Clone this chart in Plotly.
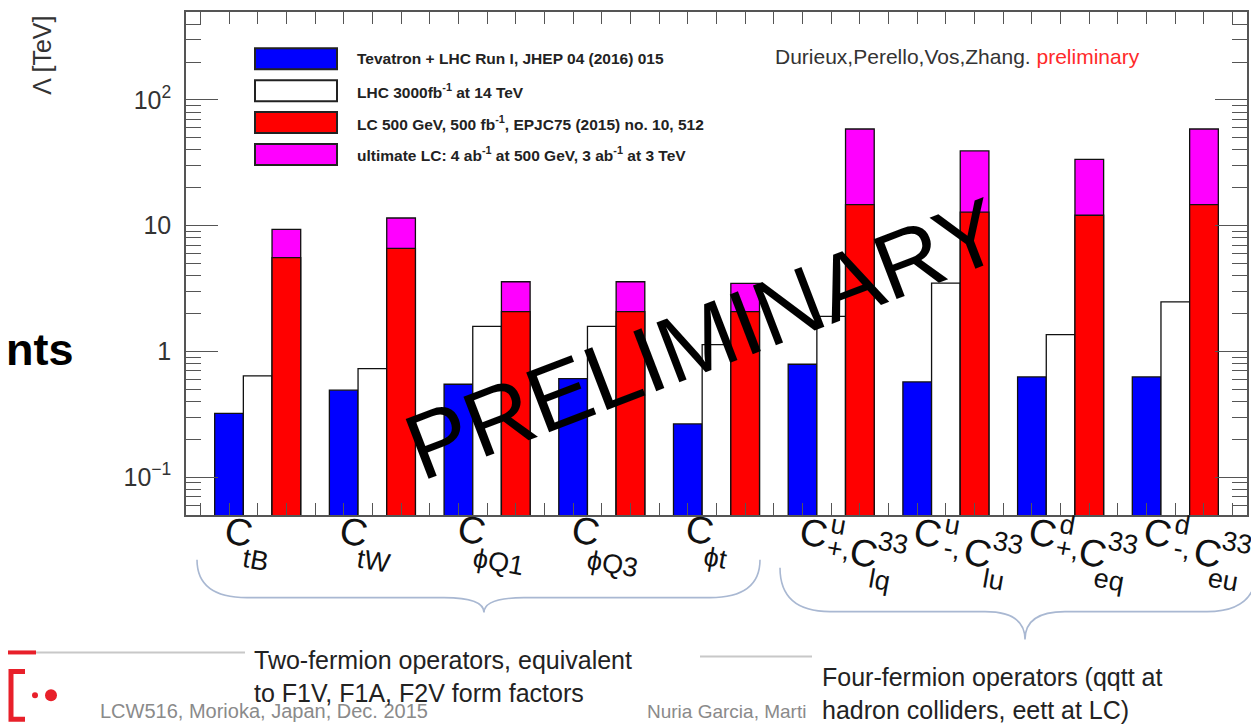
import math
import plotly.graph_objects as go

# ---------------- data ----------------
operators = ["C_tB", "C_tW", "C_phiQ1", "C_phiQ3", "C_phit",
             "C+u,Clq33", "C-u,Clu33", "C+d,Ceq33", "C-d,Ceu33"]
series_names = ["Tevatron + LHC Run I, JHEP 04 (2016) 015",
                "LHC 3000fb<sup>-1</sup> at 14 TeV",
                "LC 500 GeV, 500 fb<sup>-1</sup>, EPJC75 (2015) no. 10, 512",
                "ultimate LC: 4 ab<sup>-1</sup> at 500 GeV, 3 ab<sup>-1</sup> at 3 TeV"]
tevatron_lhc_run1 = [0.322, 0.492, 0.548, 0.608, 0.265, 0.79, 0.572, 0.627, 0.627]
lhc_3000 = [0.638, 0.730, 1.58, 1.58, 1.13, 1.90, 3.49, 1.36, 2.48]
lc_500 = [5.57, 6.6, 2.07, 2.07, 2.07, 14.7, 12.8, 12.1, 14.7]
ultimate_lc = [9.33, 11.5, 3.58, 3.58, 3.47, 58.7, 39.3, 33.7, 58.7]
y_tickvals = [0.1, 1, 10, 100]
y_ticktext = ["10<sup>\u22121</sup>", "1", "10", "10<sup>2</sup>"]

# ---------------- geometry (page pixels) ----------------
OFF = 8                      # default page margin of the html body
PW, PH = 1259, 726
W, H = PW - OFF, PH - OFF
L, R, T, B = 186, 1247, 10, 515
FONT = "Liberation Sans, Arial, Helvetica, sans-serif"


def px(x):
    return (x - L) / (R - L)


def py(y):
    return (B - y) / (B - T)


n = len(operators)
nbins = 4 * n + 1
x_blue = [1 + 4 * i for i in range(n)]
x_white = [2 + 4 * i for i in range(n)]
x_red = [3 + 4 * i for i in range(n)]

OUT = dict(color="#111111", width=1.3)
fig = go.Figure()
fig.add_bar(x=x_blue, y=tevatron_lhc_run1, width=1, name=series_names[0],
            marker=dict(color="#0000ff", line=OUT), showlegend=False)
fig.add_bar(x=x_white, y=lhc_3000, width=1, name=series_names[1],
            marker=dict(color="#ffffff", line=OUT), showlegend=False)
fig.add_bar(x=x_red, y=ultimate_lc, width=1, name=series_names[3],
            marker=dict(color="#ff00ff", line=OUT), showlegend=False)
fig.add_bar(x=x_red, y=lc_500, width=1, name=series_names[2],
            marker=dict(color="#ff0000", line=OUT), showlegend=False)

minor_vals = [m * 10 ** e for e in range(-2, 3) for m in range(2, 10)]

fig.update_layout(
    width=W, height=H, barmode="overlay",
    margin=dict(l=L - OFF, r=PW - R, t=T - OFF, b=PH - B, pad=0),
    plot_bgcolor="white", paper_bgcolor="white",
    font=dict(family=FONT, color="#222"),
    xaxis=dict(range=[-0.5, nbins - 0.5], tickmode="array",
               tickvals=list(range(nbins)), showticklabels=False,
               ticks="inside", ticklen=12, tickcolor="#555", tickwidth=1.2,
               showline=True, linecolor="#555", linewidth=1.5, mirror="ticks",
               showgrid=False, zeroline=False, layer="above traces"),
    yaxis=dict(type="log", range=[math.log10(0.05), math.log10(500)],
               tickmode="array", tickvals=y_tickvals, ticktext=y_ticktext,
               ticks="inside", ticklen=32, tickcolor="#555", tickwidth=1.2,
               tickfont=dict(size=25, color="#333", family=FONT),
               ticklabelstandoff=8,
               minor=dict(ticks="inside", ticklen=15, tickcolor="#555",
                          tickwidth=1.2, tickvals=minor_vals, showgrid=False),
               showline=True, linecolor="#555", linewidth=1.5, mirror="ticks",
               showgrid=False, zeroline=False, layer="above traces"),
)

ann = []
shapes = []


def text(x, y, s, size, color="#222", angle=0, xanchor="center",
         yanchor="middle", **kw):
    ann.append(dict(x=px(x), y=py(y), xref="paper", yref="paper", text=s,
                    showarrow=False, textangle=angle, xanchor=xanchor,
                    yanchor=yanchor,
                    font=dict(size=size, color=color,
                              family=kw.pop("family", FONT)), **kw))


# axis title
text(42, 54, "\u039b [TeV]", 25, "#333", angle=-90)
# slide title fragment
text(76, 349, "<b>nts</b>", 45, "#000", xanchor="right")

# legend
legend_rows = [57, 89, 121, 153]
legend_colors = ["#0000ff", "#ffffff", "#ff0000", "#ff00ff"]
for yc, col, name in zip(legend_rows, legend_colors, series_names):
    shapes.append(dict(type="rect", xref="paper", yref="paper",
                       x0=px(255), x1=px(337), y0=py(yc + 10.5), y1=py(yc - 10.5),
                       fillcolor=col, line=dict(color="#222", width=2)))
    text(355, yc, "<b>" + name + "</b>", 15.5, "#222", xanchor="left")

# authors
text(773, 55, "Durieux,Perello,Vos,Zhang. <span style='color:#ff2a2a'>preliminary</span>",
     21, "#333", xanchor="left")

# PRELIMINARY stamp
text(703, 338, "PRELIMINARY", 93, "#000", angle=-21)

# x-axis category labels (ROOT-style rotated)
ANG = 10
two_ferm = [("C", 238, 532, "tB", 256, 560),
            ("C", 353, 532, "tW", 374, 561),
            ("C", 471, 530, "\u03d5Q1", 498, 562),
            ("C", 585, 531, "\u03d5Q3", 612, 564),
            ("C", 699, 530, "\u03d5t", 715, 558)]
for c, cx, cy, sub, sx, sy in two_ferm:
    text(cx, cy, c, 38, "#111", angle=ANG)
    text(sx, sy, sub, 27, "#111", angle=ANG)

four_ferm = [("u", "+,", "lq"), ("u", "-,", "lu"), ("d", "+,", "eq"), ("d", "-,", "eu")]
for k, (sup, sgn, sub2) in enumerate(four_ferm):
    g = 5 + k
    cpx = L + (2 + 4 * g + 0.5) * (R - L) / nbins
    text(cpx - 18, 533, "C", 38, "#111", angle=ANG)
    text(cpx + 7, 525, sup, 27, "#111", angle=ANG)
    text(cpx + 7, 549, sgn, 27, "#111", angle=ANG)
    text(cpx + 32, 553, "C", 38, "#111", angle=ANG)
    text(cpx + 62, 543, "33", 27, "#111", angle=ANG)
    text(cpx + 48, 580, sub2, 27, "#111", angle=ANG)


# braces
def brace(x0, x1, xm, ye, yf, yt, r_end, r_mid):
    p = lambda x, y: f"{px(x):.5f},{py(y):.5f}"
    return (f"M {p(x0, ye)} Q {p(x0, yf)} {p(x0 + r_end, yf)} "
            f"L {p(xm - r_mid, yf)} Q {p(xm, yf)} {p(xm, yt)} "
            f"Q {p(xm, yf)} {p(xm + r_mid, yf)} "
            f"L {p(x1 - r_end, yf)} Q {p(x1, yf)} {p(x1, ye)}")


BRACE = dict(color="#a9b8d2", width=1.6)
shapes.append(dict(type="path", xref="paper", yref="paper",
                   path=brace(197, 760, 484, 560, 598, 613, 50, 40), line=BRACE))
shapes.append(dict(type="path", xref="paper", yref="paper",
                   path=brace(780, 1257, 1025, 568, 612, 640, 50, 40), line=BRACE))

# footer
GRAY = dict(color="#c8c8c8", width=2)
shapes.append(dict(type="line", xref="paper", yref="paper", x0=px(36), x1=px(245),
                   y0=py(653), y1=py(653), line=GRAY))
shapes.append(dict(type="line", xref="paper", yref="paper", x0=px(700), x1=px(812),
                   y0=py(657), y1=py(657), line=GRAY))
shapes.append(dict(type="line", xref="paper", yref="paper", x0=px(8), x1=px(36),
                   y0=py(653), y1=py(653), line=dict(color="#e8202a", width=4)))
shapes.append(dict(type="path", xref="paper", yref="paper",
                   path=f"M {px(25)},{py(672)} L {px(11)},{py(672)} L {px(11)},{py(720)} L {px(25)},{py(720)}",
                   line=dict(color="#e8202a", width=5)))
shapes.append(dict(type="circle", xref="paper", yref="paper",
                   x0=px(32), x1=px(38), y0=py(699), y1=py(693),
                   fillcolor="#e8202a", line=dict(width=0)))
shapes.append(dict(type="circle", xref="paper", yref="paper",
                   x0=px(45), x1=px(57), y0=py(702), y1=py(690),
                   fillcolor="#e8202a", line=dict(width=0)))
text(98, 712, "LCW516, Morioka, Japan, Dec. 2015", 20, "#8a8a8a", xanchor="left")
text(808, 712, "Nuria Garcia, Marti", 19, "#8a8a8a", xanchor="right")

# annotation text boxes
text(252, 677, "Two-fermion operators, equivalent<br>to F1V, F1A, F2V form factors",
     25, "#222", xanchor="left", align="left")
text(820, 694, "Four-fermion operators (qqtt at<br>hadron colliders, eett at LC)",
     25, "#222", xanchor="left", align="left")

fig.update_layout(annotations=ann, shapes=shapes)
fig.write_html("out.html")
